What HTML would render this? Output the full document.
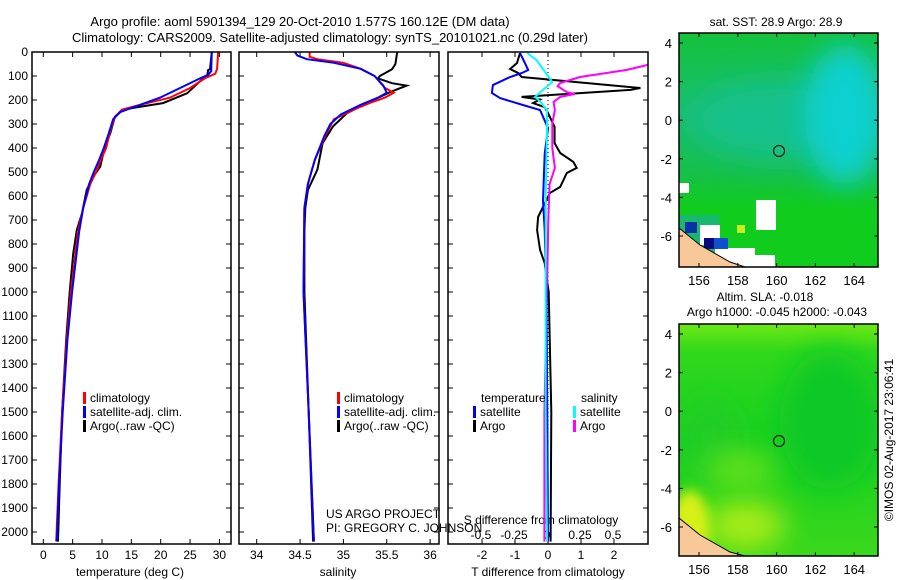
<!DOCTYPE html>
<html><head><meta charset="utf-8">
<style>
html,body{margin:0;padding:0;background:#fff;}
svg{display:block;font-family:"Liberation Sans",sans-serif;}
text{font-size:12px;fill:#000;}
</style></head>
<body>
<svg id="chart" width="900" height="580" viewBox="0 0 900 580" xmlns="http://www.w3.org/2000/svg">
<defs>
 <clipPath id="cp1"><rect x="32" y="52" width="199" height="492"/></clipPath>
 <clipPath id="cp2"><rect x="239" y="52" width="200" height="492"/></clipPath>
 <clipPath id="cp3"><rect x="448" y="52" width="200" height="492"/></clipPath>
 <clipPath id="cm1"><rect x="679" y="33" width="199" height="234"/></clipPath>
 <clipPath id="cm2"><rect x="679" y="324" width="199" height="232"/></clipPath>
 <filter id="bl" x="-50%" y="-50%" width="200%" height="200%"><feGaussianBlur stdDeviation="14"/></filter>
 <filter id="bl2" x="-50%" y="-50%" width="200%" height="200%"><feGaussianBlur stdDeviation="6"/></filter>
 <linearGradient id="g1" x1="0" y1="0" x2="0" y2="1">
  <stop offset="0" stop-color="#14c23c"/>
  <stop offset="0.35" stop-color="#18be70"/>
  <stop offset="0.6" stop-color="#16c048"/>
  <stop offset="0.75" stop-color="#10cc1c"/>
  <stop offset="1" stop-color="#10cc1c"/>
 </linearGradient>
 <linearGradient id="g2" x1="0" y1="0" x2="0" y2="1">
  <stop offset="0" stop-color="#6ee814"/>
  <stop offset="0.12" stop-color="#30d81c"/>
  <stop offset="0.5" stop-color="#18d020"/>
  <stop offset="1" stop-color="#3ad81c"/>
 </linearGradient>
</defs>
<text x="300" y="26" text-anchor="middle" style="font-size:13px">Argo profile: aoml 5901394_129 20-Oct-2010 1.577S 160.12E (DM data)</text>
<text x="330" y="42" text-anchor="middle" style="font-size:13px">Climatology: CARS2009. Satellite-adjusted climatology: synTS_20101021.nc (0.29d later)</text>

<g id="maps">
 <g clip-path="url(#cm1)">
  <rect x="679" y="33" width="199" height="234" fill="url(#g1)"/>
  <ellipse cx="780" cy="120" rx="90" ry="40" fill="#19c08a" filter="url(#bl)"/>
  <ellipse cx="845" cy="115" rx="40" ry="70" fill="#10d0d0" filter="url(#bl)"/>
  <rect x="679" y="215" width="40" height="40" fill="#18b870"/>
  <rect x="679" y="183" width="10" height="10" fill="#fff"/>
  <rect x="679" y="245" width="12" height="22" fill="#fff"/>
  <rect x="756" y="200" width="20" height="30" fill="#fff"/>
  <rect x="700" y="225" width="20" height="20" fill="#fff"/>
  <rect x="715" y="248" width="40" height="19" fill="#fff"/>
  <rect x="755" y="255" width="20" height="12" fill="#fff"/>
  <rect x="685" y="222" width="12" height="11" fill="#0a30a8"/>
  <rect x="704" y="238" width="10" height="11" fill="#0a0a80"/>
  <rect x="714" y="238" width="14" height="11" fill="#1050d0"/>
  <rect x="737" y="225" width="8" height="8" fill="#c8f020"/>
  <path d="M679 228 L700 245 L730 262 L745 267 L679 267 Z" fill="#f8c898" stroke="#000" stroke-width="1"/>
 </g>
 <rect x="679" y="33" width="199" height="234" fill="none" stroke="#000" stroke-width="1.5"/>
 <circle cx="779" cy="151" r="5.5" fill="none" stroke="#000"/>
 <text x="776" y="26" text-anchor="middle">sat. SST: 28.9 Argo: 28.9</text>

 <g clip-path="url(#cm2)">
  <rect x="679" y="324" width="199" height="232" fill="url(#g2)"/>
  <ellipse cx="830" cy="420" rx="50" ry="70" fill="#10c828" filter="url(#bl)"/>
  <ellipse cx="710" cy="440" rx="25" ry="40" fill="#20cc28" filter="url(#bl)"/>
  <ellipse cx="745" cy="525" rx="40" ry="25" fill="#a8ec18" filter="url(#bl)"/>
  <ellipse cx="690" cy="530" rx="20" ry="40" fill="#d8f014" filter="url(#bl2)"/>
  <ellipse cx="740" cy="470" rx="35" ry="20" fill="#60e01c" filter="url(#bl)"/>
  <path d="M679 518 L700 535 L730 552 L745 556 L679 556 Z" fill="#f8c898" stroke="#000" stroke-width="1"/>
 </g>
 <rect x="679" y="324" width="199" height="232" fill="none" stroke="#000" stroke-width="1.5"/>
 <circle cx="779" cy="441" r="5.5" fill="none" stroke="#000"/>
 <text x="765" y="301" text-anchor="middle">Altim. SLA: -0.018</text>
 <text x="777" y="316" text-anchor="middle">Argo h1000: -0.045 h2000: -0.043</text>
 <text transform="translate(893,440) rotate(-90)" text-anchor="middle">©IMOS 02-Aug-2017 23:06:41</text>
</g>
<g id="dyn"></g>
</svg>
<script>
// ---- data ----
const depthTicks=[0,100,200,300,400,500,600,700,800,900,1000,1100,1200,1300,1400,1500,1600,1700,1800,1900,2000];
const tempTicks=[0,5,10,15,20,25,30];
const salTicks=[34,34.5,35,35.5,36];
const tdiffTicks=[-2,-1,0,1,2];
const sdiffTicks=[-0.5,-0.25,0,0.25,0.5];
const latTicks=[4,2,0,-2,-4,-6];
const lonTicks=[156,158,160,162,164];

const tArgoDepth=[0,72,75,100,110,172,213,228,240,270,340,395,478,520,575,672,742,840,1000,1200,1500,1800,2040];
const tArgo=[28.7,28.4,28.1,27.9,27.2,24.5,20.4,16.5,13.6,12.2,11.4,10.5,9.7,8.5,7.4,6.6,5.7,5.1,4.5,3.9,3.2,2.8,2.5];
const tClimDepth=[0,70,90,110,150,190,220,240,270,330,400,450,500,550,650,750,1000,1200,1500,1800,2040];
const tClim=[29.8,29.6,29.3,27.5,25.0,21.6,16.5,13.4,12.2,11.4,10.7,9.8,9.0,8.0,6.8,5.9,4.7,4.0,3.2,2.6,2.2];
const tSatDepth=[0,80,95,110,150,190,220,250,280,350,400,450,500,550,650,750,1000,1200,1500,1800,2040];
const tSat=[28.7,28.6,28.1,26.7,23.3,19.9,16.5,13.1,11.9,11.0,10.3,9.5,8.6,7.8,6.8,6.1,4.9,4.1,3.3,2.7,2.3];

const sArgoDepth=[0,50,72,100,110,130,140,167,213,255,310,380,490,575,650,750,1000,1500,2040];
const sArgo=[35.62,35.60,35.56,35.42,35.40,35.56,35.73,35.54,35.27,35.04,34.88,34.76,34.70,34.59,34.56,34.55,34.55,34.60,34.65];
const sClimDepth=[0,20,30,45,70,100,150,170,190,210,240,280,350,450,550,650,1000,1500,2040];
const sClim=[34.61,34.61,34.70,35.00,35.20,35.36,35.48,35.58,35.48,35.32,35.12,34.89,34.79,34.67,34.59,34.55,34.54,34.60,34.66];
const sSatDepth=[0,15,30,45,70,100,140,170,190,220,260,300,350,450,550,650,1000,1500,2040];
const sSat=[34.44,34.47,34.58,34.89,35.20,35.36,35.46,35.50,35.40,35.20,34.97,34.85,34.78,34.67,34.59,34.55,34.54,34.60,34.66];

const dTArgoDepth=[4,46,71,88,104,150,158,187,198,213,230,254,312,380,421,458,483,504,562,587,646,687,742,825,880,1000,1500,2040];
const dTArgo=[-0.85,-0.94,-1.15,-0.9,-0.8,2.8,2.5,-0.8,-0.25,-0.45,-0.1,0,0.2,0.2,0.37,0.77,0.87,0.57,0.37,0.06,-0.15,-0.3,-0.33,-0.24,-0.1,0.02,0.1,0.08];
const dTSatDepth=[4,46,75,88,104,138,171,192,221,242,317,425,620,742,1000,1500,2040];
const dTSat=[-0.85,-0.7,-0.6,-0.8,-1.15,-1.67,-1.7,-1.45,-0.76,-0.24,0,-0.1,-0.15,-0.1,-0.05,-0.02,0];
const dSSatDepth=[4,33,71,125,158,187,208,242,320,600,1000,1500,2040];
const dSSat=[-0.15,-0.08,-0.03,0.04,-0.03,-0.09,-0.05,0,0,-0.01,-0.01,-0.01,0];
const dSArgoDepth=[0,40,54,75,104,129,142,167,175,187,208,242,296,400,483,550,700,1000,1500,2040];
const dSArgo=[1.0,0.9,0.76,0.6,0.25,0.1,0.08,0.15,0.21,0.1,0.05,0.06,0.04,0.04,0.06,0.02,0.01,0.0,-0.02,-0.02];

// ---- scales ----
const yD=d=>52+d*0.24;
const xT=t=>43.3+t*5.87;
const xS=s=>256.7+(s-34)*86.7;
const xDT=v=>548+v*33;
const xDS=v=>547+v*132;
const yLat1=l=>43+(4-l)*19.3;
const yLat2=l=>334+(4-l)*19.3;
const xLon=l=>699+(l-156)*19.4;

const NS='http://www.w3.org/2000/svg';
const root=document.getElementById('dyn');
function mk(tag,attrs,parent){const e=document.createElementNS(NS,tag);for(const k in attrs)e.setAttribute(k,attrs[k]);(parent||root).appendChild(e);return e;}

function line(xs,ds,xf,color,name,clip){
  const pts=xs.map((v,i)=>xf(v).toFixed(1)+','+yD(ds[i]).toFixed(1)).join(' ');
  const e=mk('polyline',{points:pts,fill:'none',stroke:color,'stroke-width':2,'clip-path':'url(#'+clip+')'});
  
  
}
function frame(x,y,w,h,name){
  const e=mk('rect',{x:x,y:y,width:w,height:h,fill:'none',stroke:'#000','stroke-width':1.5});
  
  
}
function txt(x,y,s,anchor,name,size){
  const e=mk('text',{x:x,y:y,'text-anchor':anchor||'start'});
  if(size)e.style.fontSize=size+'px';
  e.textContent=s;
  
  
  return e;
}
function tick(x1,y1,x2,y2){mk('line',{x1:x1,y1:y1,x2:x2,y2:y2,stroke:'#000','stroke-width':1});}

const panels=[[32,231],[239,439],[448,648]];
depthTicks.forEach(d=>{
  const y=yD(d);
  panels.forEach(p=>{tick(p[0],y,p[0]+5,y);tick(p[1]-5,y,p[1],y);});
  txt(28,y+4,String(d),'end','depth-tick-label');
});
tempTicks.forEach(t=>{const x=xT(t);tick(x,52,x,57);tick(x,539,x,544);txt(x,559,String(t),'middle','temp-tick-label');});
txt(130,576,'temperature (deg C)','middle','temp-axis-title');
salTicks.forEach(s=>{const x=xS(s);tick(x,52,x,57);tick(x,539,x,544);txt(x,559,String(s),'middle','sal-tick-label');});
txt(338,576,'salinity','middle','sal-axis-title');
tdiffTicks.forEach(v=>{const x=xDT(v);tick(x,52,x,57);tick(x,539,x,544);txt(x,559,String(v),'middle','tdiff-tick-label');});
txt(548,576,'T difference from climatology','middle','tdiff-axis-title');
sdiffTicks.forEach(v=>{const x=xDS(v);txt(x,539,String(v),'middle','sdiff-tick-label');});
txt(541,524,'S difference from climatology','middle','sdiff-axis-title');
const z=mk('line',{x1:xDT(0),y1:52,x2:xDT(0),y2:544,stroke:'#000','stroke-dasharray':'1,3','stroke-width':1});



line(tArgo,tArgoDepth,xT,'#000','temp-argo-line','cp1');
line(tClim,tClimDepth,xT,'#f00','temp-climatology-line','cp1');
line(tSat,tSatDepth,xT,'#00f','temp-satellite-line','cp1');
line(sArgo,sArgoDepth,xS,'#000','sal-argo-line','cp2');
line(sClim,sClimDepth,xS,'#f00','sal-climatology-line','cp2');
line(sSat,sSatDepth,xS,'#00f','sal-satellite-line','cp2');
line(dTArgo,dTArgoDepth,xDT,'#000','tdiff-argo-line','cp3');
line(dSArgo,dSArgoDepth,xDS,'#f0f','sdiff-argo-line','cp3');
line(dTSat,dTSatDepth,xDT,'#00f','tdiff-satellite-line','cp3');
line(dSSat,dSSatDepth,xDS,'#0ff','sdiff-satellite-line','cp3');

frame(32,52,199,492,'temperature-panel');
frame(239,52,200,492,'salinity-panel');
frame(448,52,200,492,'difference-panel');

function legItem(x,y,color,label,name){
  const r=mk('rect',{x:x,y:y-10,width:3,height:12,fill:color});
  
  
  txt(x+7,y,label,'start',name);
}
[83,337].forEach(x=>{
  legItem(x,402,'#f00','climatology','legend-climatology');
  legItem(x,416,'#00f','satellite-adj. clim.','legend-satellite');
  legItem(x,430,'#000','Argo(..raw -QC)','legend-argo');
});
txt(481,402,'temperature','start','legend-temperature-header');
txt(581,402,'salinity','start','legend-salinity-header');
legItem(473,416,'#00f','satellite','legend-tdiff-satellite');
legItem(473,430,'#000','Argo','legend-tdiff-argo');
legItem(573,416,'#0ff','satellite','legend-sdiff-satellite');
legItem(573,430,'#f0f','Argo','legend-sdiff-argo');
txt(326,518,'US ARGO PROJECT','start','project-credit');
txt(326,532,'PI: GREGORY C. JOHNSON','start','pi-credit');

latTicks.forEach(l=>{
  const y1=yLat1(l), y2=yLat2(l);
  tick(679,y1,683,y1);tick(874,y1,878,y1);tick(679,y2,683,y2);tick(874,y2,878,y2);
  txt(672,y1+5,String(l),'end','sst-lat-label',13);
  txt(672,y2+5,String(l),'end','sla-lat-label',13);
});
lonTicks.forEach(l=>{
  const x=xLon(l);
  tick(x,33,x,37);tick(x,263,x,267);tick(x,324,x,328);tick(x,552,x,556);
  txt(x,285,String(l),'middle','sst-lon-label',13);
  txt(x,574,String(l),'middle','sla-lon-label',13);
});
</script>
</body></html>
